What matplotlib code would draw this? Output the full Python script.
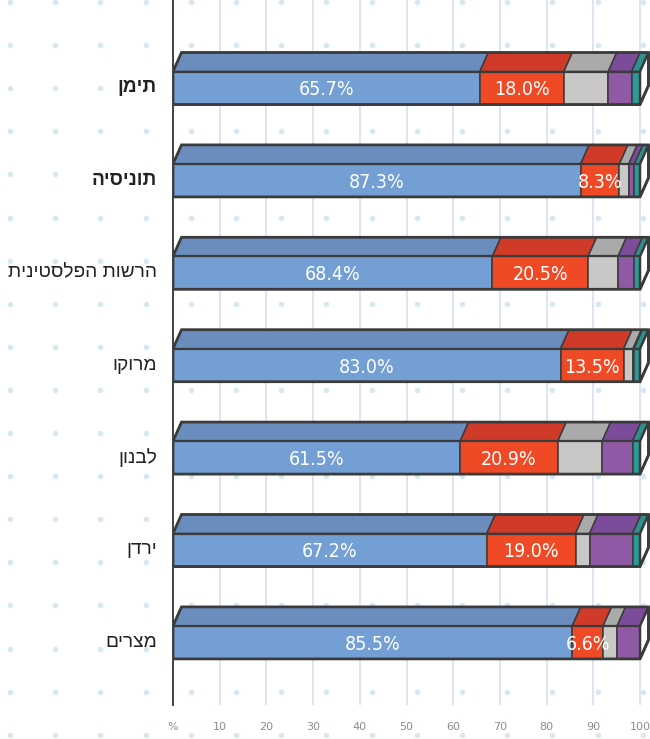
import matplotlib
matplotlib.use("Agg")
import matplotlib.pyplot as plt
from matplotlib.patches import Polygon
from matplotlib import font_manager

countries = ['תימן', 'תוניסיה', 'הרשות הפלסטינית', 'מרוקו', 'לבנון', 'ירדן', 'מצרים']
bold_rows = [True, True, False, False, False, False, False]

blue = [65.7, 87.3, 68.4, 83.0, 61.5, 67.2, 85.5]
red = [18.0, 8.3, 20.5, 13.5, 20.9, 19.0, 6.6]
gray = [9.5, 2.0, 6.4, 2.0, 9.5, 3.0, 3.0]
purple = [5.0, 1.2, 3.4, 0.2, 6.5, 9.2, 4.9]
teal = [1.8, 1.2, 1.3, 1.3, 1.6, 1.6, 0.0]

xticks = [0, 10, 20, 30, 40, 50, 60, 70, 80, 90, 100]
xticklabels = ['%', '10', '20', '30', '40', '50', '60', '70', '80', '90', '100']

series = [blue, red, gray, purple, teal]
front_cols = ['#739fd4', '#ef4a25', '#c9c8c6', '#9059a6', '#2a9c98']
top_cols = ['#6b8dbe', '#cf3a29', '#aaaaaa', '#7c4b9a', '#2f8f8c']
show_label = [True, True, False, False, False]
edge = '#3b3b3b'

# look for an upright narrow face for the value labels, else fall back to Roboto
narrow = None
for f in font_manager.fontManager.ttflist:
    if ('Narrow' in f.name or 'Condensed' in f.name or f.stretch == 'condensed') \
            and 'Mono' not in f.name and 'Serif' not in f.name \
            and f.style == 'normal' and f.weight in (400, 'normal', 'regular'):
        narrow = font_manager.FontProperties(fname=f.fname)
        break
if narrow is None:
    narrow = font_manager.FontProperties(family='Roboto')
    lab_size = 12.5
else:
    lab_size = 14

fig = plt.figure(figsize=(6.5, 7.39), dpi=100)
fig.patch.set_facecolor('white')

# dotted paper background
bg = fig.add_axes([0, 0, 1, 1])
bg.set_xlim(0, 650)
bg.set_ylim(739, 0)
bg.axis('off')
dx_ = [10 + 45.2 * k for k in range(15)]
dy_ = [2 + 43.1 * j for j in range(18)]
bg.scatter([x for x in dx_ for y in dy_], [y for x in dx_ for y in dy_],
           s=16, color='#d8e8f1', lw=0, zorder=0)

# main axes: 0..100 spans px 173..640
px_per = 4.67
ax = fig.add_axes([173 / 650, 34 / 739, 477 / 650, 705 / 739])
ax.patch.set_alpha(0)
ax.set_xlim(0, 477 / px_per)
slot = 92.4
ax.set_ylim(617 / slot, -88 / slot)

ax.set_xticks(xticks)
ax.set_xticklabels(xticklabels, color='#8c8c8c', fontsize=8)
ax.set_yticks([])
ax.tick_params(axis='x', length=0, pad=12)
ax.grid(axis='x', color='#dfe3f3', lw=1.4, zorder=0)
for s in ['top', 'right', 'bottom']:
    ax.spines[s].set_visible(False)
ax.spines['left'].set_color('#333333')
ax.spines['left'].set_linewidth(1.3)

h = 33 / slot      # front face height
dep_y = 19 / slot  # depth (up)
dep_x = 8.5 / px_per  # depth (right)

for i, name in enumerate(countries):
    y0 = i - h / 2   # top edge of front (inverted axis)
    y1 = i + h / 2
    left = 0
    for j, vals in enumerate(series):
        v = vals[i]
        if v <= 0:
            continue
        front = Polygon([(left, y0), (left + v, y0), (left + v, y1), (left, y1)],
                        closed=True, fc=front_cols[j], ec=edge, lw=1.1, zorder=3)
        top = Polygon([(left, y0), (left + v, y0), (left + v + dep_x, y0 - dep_y),
                       (left + dep_x, y0 - dep_y)],
                      closed=True, fc=top_cols[j], ec=edge, lw=1.1, zorder=3)
        ax.add_patch(front)
        ax.add_patch(top)
        if show_label[j]:
            ax.text(left + v / 2, i + 0.02, f'{v:.1f}%', color='white',
                    fontproperties=narrow, fontsize=lab_size,
                    ha='center', va='center', zorder=5)
        left += v
    # white side face and heavier outline
    side = Polygon([(left, y0), (left + dep_x, y0 - dep_y), (left + dep_x, y1 - dep_y),
                    (left, y1)], closed=True, fc='white', ec=edge, lw=1.8, zorder=4)
    ax.add_patch(side)
    outline = Polygon([(0, y1), (0, y0), (dep_x, y0 - dep_y), (left + dep_x, y0 - dep_y),
                       (left + dep_x, y1 - dep_y), (left, y1)],
                      closed=True, fill=False, ec=edge, lw=2.0, zorder=4)
    ax.add_patch(outline)
    ax.plot([0, left], [y0, y0], color=edge, lw=1.6, zorder=4)

    # matplotlib has no bidi support, so reverse the Hebrew for display
    ax.text(-16 / px_per, i, name[::-1], ha='right', va='center', fontsize=13.8,
            color='#222222', family=['Liberation Sans', 'DejaVu Sans'],
            fontweight='bold' if bold_rows[i] else 'normal')

fig.savefig('out.png', dpi=100)
